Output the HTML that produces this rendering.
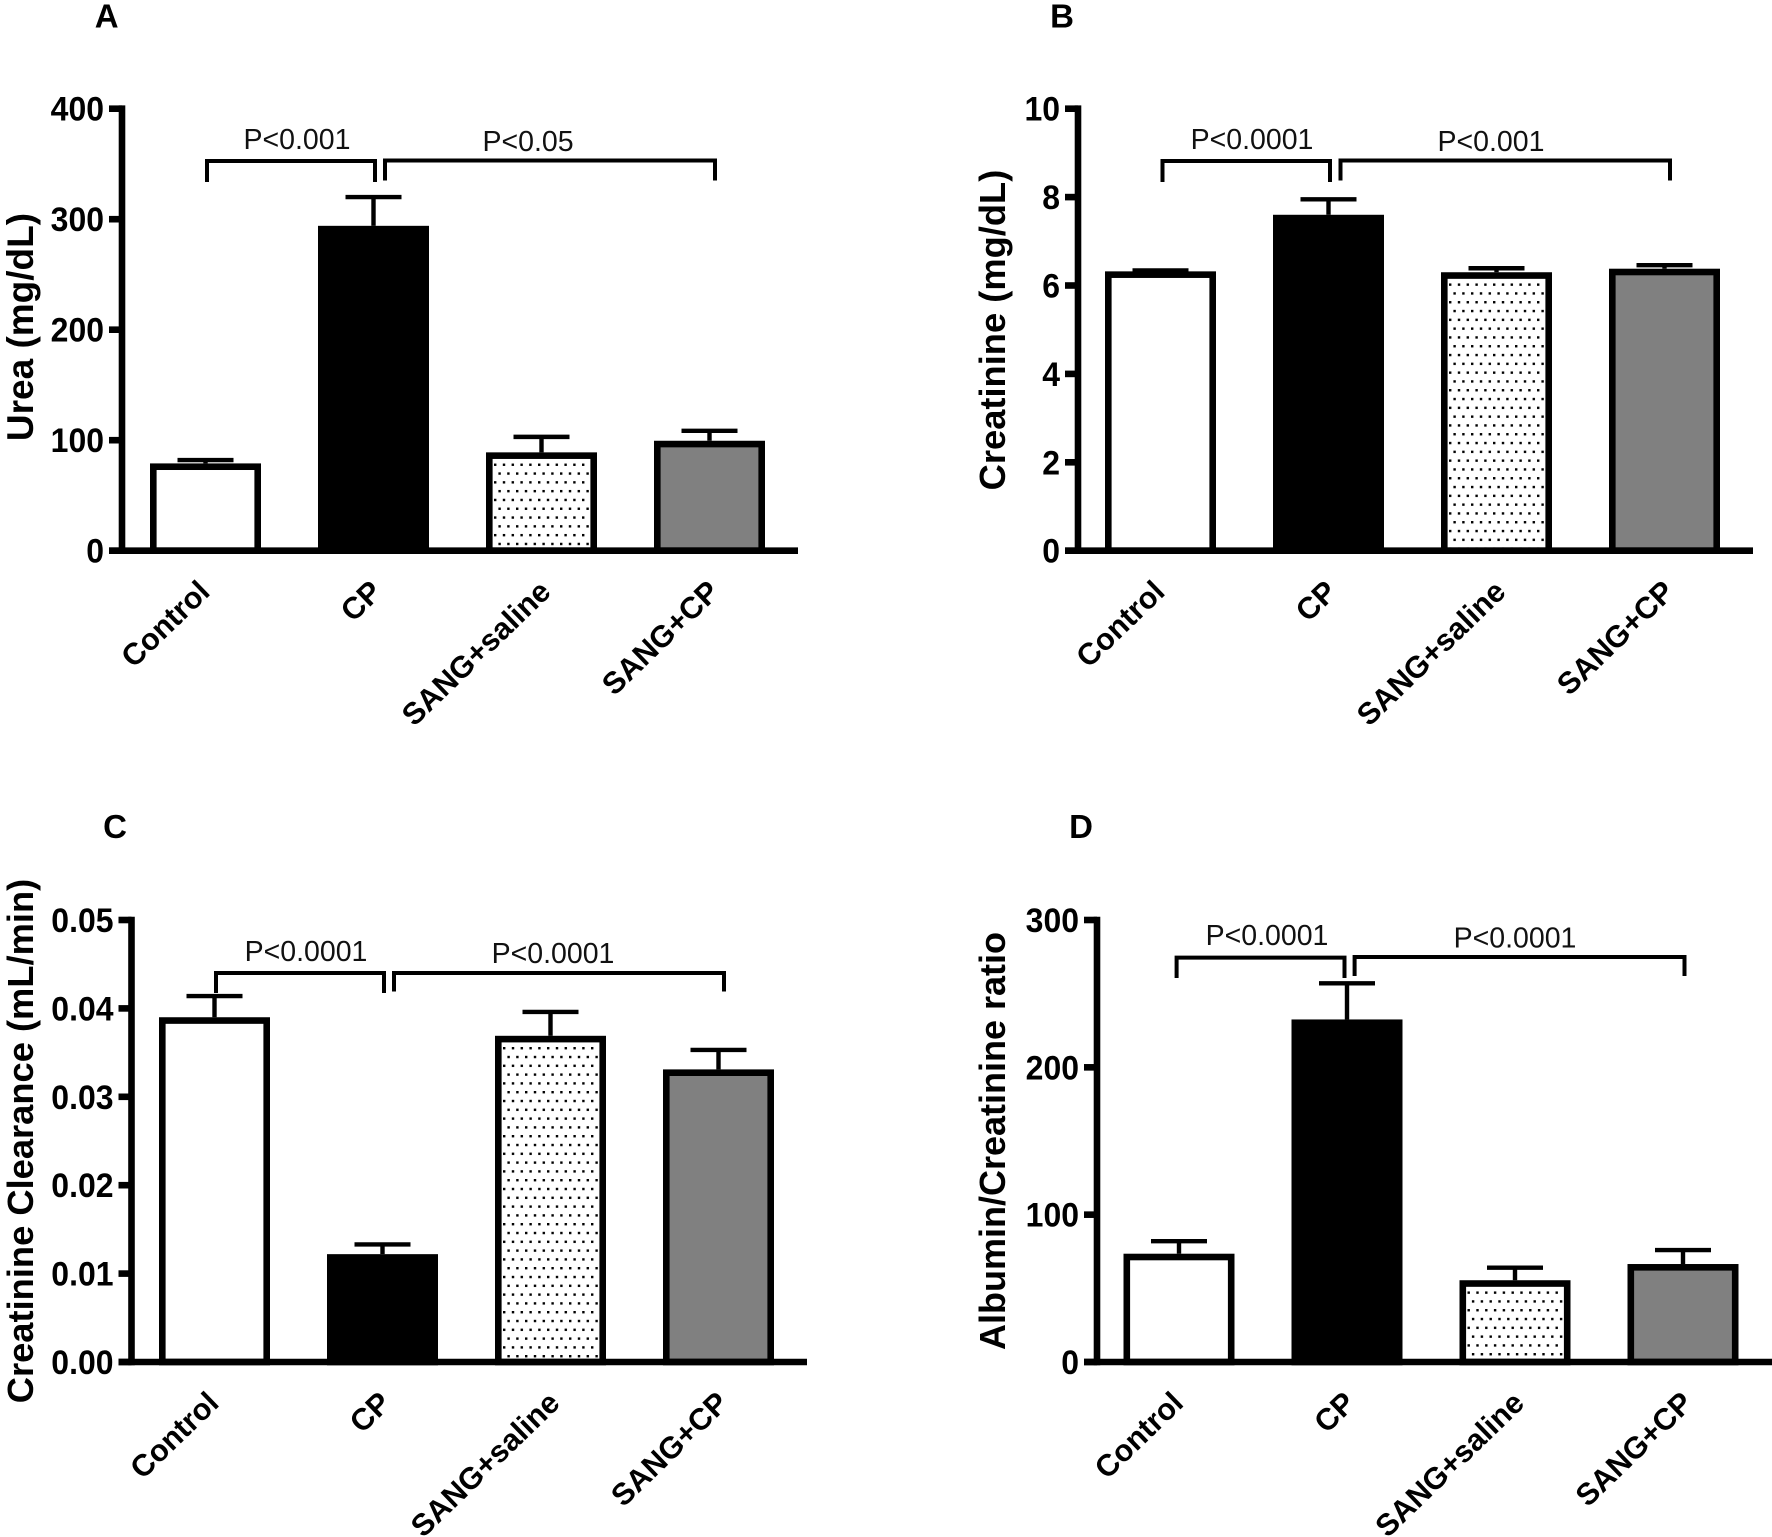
<!DOCTYPE html>
<html lang="en">
<head>
<meta charset="utf-8">
<title>Renal function bar charts</title>
<style>
  html, body { margin: 0; padding: 0; background: #fff; }
  svg { display: block; }
  text { font-family: "Liberation Sans", Arial, sans-serif; fill: #000; }
  .tick { font-weight: 700; font-size: 34px; text-anchor: end; }
  .title { font-weight: 700; text-anchor: middle; }
  .cat { font-weight: 700; font-size: 30.5px; text-anchor: end; }
  .p { font-size: 28.5px; text-anchor: middle; fill: #111; }
  .letter { font-weight: 700; font-size: 33px; text-anchor: middle; }
</style>
</head>
<body>
<svg id="figure" xmlns="http://www.w3.org/2000/svg" width="1772" height="1537" viewBox="0 0 1772 1537">
  <rect width="1772" height="1537" fill="#fff"/>
  <defs id="defs"></defs>
</svg>
<script>
// ---------- data ----------
const categories = ['Control', 'CP', 'SANG+saline', 'SANG+CP'];

const ureaMeans = [79, 294, 89, 99.5];
const ureaErrors = [3, 26, 14, 9];
const ureaTicks = ['0', '100', '200', '300', '400'];

const creatinineMeans = [6.32, 7.6, 6.3, 6.38];
const creatinineErrors = [0.02, 0.35, 0.09, 0.08];
const creatinineTicks = ['0', '2', '4', '6', '8', '10'];

const clearanceMeans = [0.0390, 0.0122, 0.0369, 0.0331];
const clearanceErrors = [0.0024, 0.0011, 0.0027, 0.0022];
const clearanceTicks = ['0.00', '0.01', '0.02', '0.03', '0.04', '0.05'];

const ratioMeans = [73.5, 232.5, 55.5, 66.5];
const ratioErrors = [8.5, 24.5, 8.5, 9.5];
const ratioTicks = ['0', '100', '200', '300'];

// ---------- layout ----------
const panels = [
  { id: 'a', letter: 'A', lx: 106.7, ly: 27.5, title: 'Urea (mg/dL)', titleX: 33, titleY: 327, titleSize: 37,
    means: ureaMeans, errors: ureaErrors, ticks: ureaTicks,
    axisX: 122, yTop: 108.7, yBottom: 550.7, xEnd: 798, first: 150, pitch: 168,
    brackets: [
      { x1: 207, x2: 375, top: 161, bot: 182, label: 'P<0.001', tx: 297, ty: 149 },
      { x1: 385, x2: 715, top: 160.5, bot: 180.5, label: 'P<0.05', tx: 528, ty: 151 }
    ] },
  { id: 'b', letter: 'B', lx: 1062, ly: 27.5, title: 'Creatinine (mg/dL)', titleX: 1005, titleY: 330, titleSize: 36.3,
    means: creatinineMeans, errors: creatinineErrors, ticks: creatinineTicks,
    axisX: 1078, yTop: 108.7, yBottom: 550.7, xEnd: 1753, first: 1105, pitch: 168,
    brackets: [
      { x1: 1162.5, x2: 1330, top: 161, bot: 182, label: 'P<0.0001', tx: 1252, ty: 149 },
      { x1: 1340.5, x2: 1670, top: 160.5, bot: 180.5, label: 'P<0.001', tx: 1491, ty: 151 }
    ] },
  { id: 'c', letter: 'C', lx: 115, ly: 838, title: 'Creatinine Clearance (mL/min)', titleX: 33, titleY: 1141, titleSize: 36.3,
    means: clearanceMeans, errors: clearanceErrors, ticks: clearanceTicks,
    axisX: 131.5, yTop: 920, yBottom: 1362, xEnd: 807, first: 159, pitch: 168,
    brackets: [
      { x1: 216, x2: 384, top: 973, bot: 993, label: 'P<0.0001', tx: 306, ty: 961 },
      { x1: 394, x2: 724, top: 973, bot: 991.5, label: 'P<0.0001', tx: 553, ty: 963 }
    ] },
  { id: 'd', letter: 'D', lx: 1081, ly: 838, title: 'Albumin/Creatinine ratio', titleX: 1005, titleY: 1141, titleSize: 36,
    means: ratioMeans, errors: ratioErrors, ticks: ratioTicks,
    axisX: 1097, yTop: 920, yBottom: 1362, xEnd: 1772, first: 1123.5, pitch: 168,
    brackets: [
      { x1: 1176.6, x2: 1344.5, top: 957.6, bot: 978, label: 'P<0.0001', tx: 1267, ty: 945 },
      { x1: 1354.6, x2: 1684.5, top: 957, bot: 976, label: 'P<0.0001', tx: 1515, ty: 947.6 }
    ] }
];

const BAR_W = 111, BAR_STROKE = 6.6, AXIS_W = 6.6, TICK_LEN = 13, CAP_W = 56, ERR_W = 4.4;
const TICK_SQUEEZE = 0.94;
const LABEL_ANGLE = -44;
const catLabelShift = { 'Control': -2, 'CP': 2, 'SANG+saline': 3, 'SANG+CP': 3.5 };
const fills = ['#ffffff', '#000000', 'dots', '#808080'];

const NS = 'http://www.w3.org/2000/svg';
const svg = document.getElementById('figure');
const defs = document.getElementById('defs');



function mk(tag, attrs, parent) {
  const e = document.createElementNS(NS, tag);
  for (const k in attrs) e.setAttribute(k, attrs[k]);
  parent.appendChild(e);
  return e;
}

function drawPanel(p) {
  const g = mk('g', {}, svg);
  
  

  const maxV = parseFloat(p.ticks[p.ticks.length - 1]);
  const yScale = v => p.yBottom - (v / maxV) * (p.yBottom - p.yTop);
  const xBand = i => p.first + i * p.pitch;

  const letter = mk('text', { x: p.lx, y: p.ly, class: 'letter' }, g);
  letter.textContent = p.letter;
  
  

  // bars and error bars
  categories.forEach((cat, i) => {
    const left = xBand(i), cx = left + BAR_W / 2;
    const top = yScale(p.means[i]), errTop = yScale(p.means[i] + p.errors[i]);

    const stem = mk('line', { x1: cx, x2: cx, y1: top, y2: errTop, stroke: '#000', 'stroke-width': ERR_W }, g);
    
    

    const cap = mk('line', { x1: cx - CAP_W / 2, x2: cx + CAP_W / 2, y1: errTop, y2: errTop, stroke: '#000', 'stroke-width': ERR_W }, g);
    
    

    let fill = fills[i];
    if (fill === 'dots') {
      const innerX = left + BAR_STROKE, innerY = top + BAR_STROKE;
      const pat = mk('pattern', {
        id: 'dots-' + p.id, patternUnits: 'userSpaceOnUse', width: 17.6, height: 17.6,
        patternTransform: 'translate(' + (innerX + 1.4) + ' ' + (innerY + 4.6) + ')'
      }, defs);
      
      
      [[0, 0], [8.8, 0], [-4.4, 8.8], [4.4, 8.8], [13.2, 8.8]].forEach(o => {
        mk('rect', { x: o[0], y: o[1], width: 2.4, height: 2.4, fill: '#000' }, pat);
      });
      fill = 'url(#dots-' + p.id + ')';
    }
    const bar = mk('rect', {
      x: left + BAR_STROKE / 2, y: top + BAR_STROKE / 2,
      width: BAR_W - BAR_STROKE, height: Math.max(0, p.yBottom - top - BAR_STROKE / 2),
      fill: fill, stroke: '#000', 'stroke-width': BAR_STROKE
    }, g);
    
    

    const ax = cx + 8 + catLabelShift[cat], ay = p.yBottom + 43;
    const label = mk('text', { x: ax, y: ay, class: 'cat', transform: 'rotate(' + LABEL_ANGLE + ' ' + ax + ' ' + ay + ')' }, g);
    label.textContent = cat;
    
    
  });

  // axes
  const yAxis = mk('line', { x1: p.axisX, x2: p.axisX, y1: p.yTop - AXIS_W / 2, y2: p.yBottom + AXIS_W / 2, stroke: '#000', 'stroke-width': AXIS_W }, g);
  
  

  const xAxis = mk('line', { x1: p.axisX - TICK_LEN, x2: p.xEnd, y1: p.yBottom, y2: p.yBottom, stroke: '#000', 'stroke-width': AXIS_W }, g);
  
  

  p.ticks.forEach(t => {
    const y = yScale(parseFloat(t));
    const tick = mk('line', { x1: p.axisX - TICK_LEN, x2: p.axisX, y1: y, y2: y, stroke: '#000', 'stroke-width': AXIS_W }, g);
    
    

    const lab = mk('text', {
      x: 0, y: 0, class: 'tick',
      transform: 'translate(' + (p.axisX - 18) + ' ' + (y + 12) + ') scale(' + TICK_SQUEEZE + ' 1)'
    }, g);
    lab.textContent = t;
    
    
  });

  // y title
  const title = mk('text', {
    x: p.titleX, y: p.titleY, class: 'title', 'font-size': p.titleSize,
    transform: 'rotate(-90 ' + p.titleX + ' ' + p.titleY + ')'
  }, g);
  title.textContent = p.title;
  
  

  // significance brackets
  p.brackets.forEach(b => {
    const br = mk('path', {
      d: 'M' + b.x1 + ' ' + b.bot + 'V' + b.top + 'H' + b.x2 + 'V' + b.bot,
      fill: 'none', stroke: '#000', 'stroke-width': 4
    }, g);
    
    

    const pt = mk('text', { x: b.tx, y: b.ty, class: 'p' }, g);
    pt.textContent = b.label;
    
    
  });
}

panels.forEach(drawPanel);
</script>
</body>
</html>
